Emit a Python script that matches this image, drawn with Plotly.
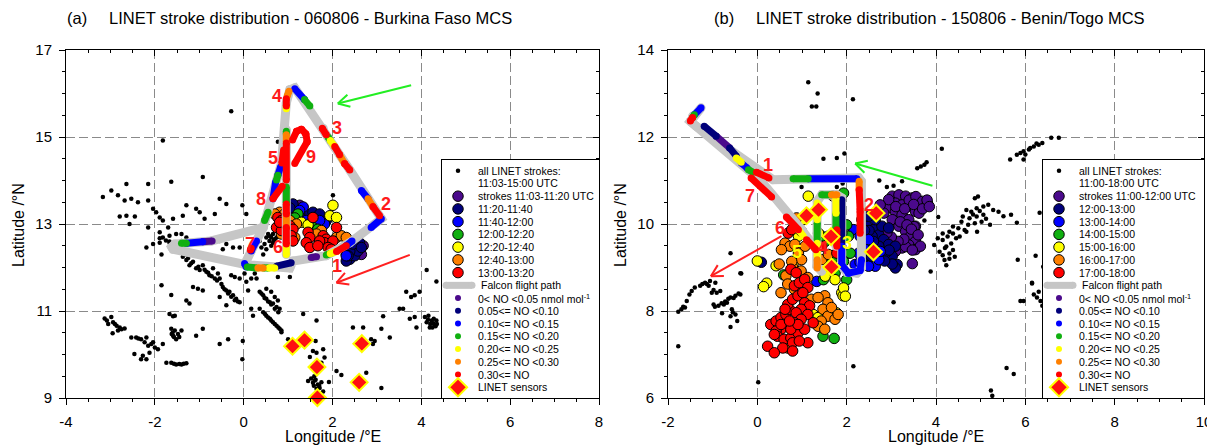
import math
import plotly.graph_objects as go

FONT = "Liberation Sans, Arial, Helvetica, sans-serif"
FIG_W, FIG_H = 1207, 445

# colour classes shared by stroke time bins and NO mixing-ratio bins
CLASS_COLORS = ["#4b0a8c", "#00007a", "#0000ff", "#10b010", "#ffff00", "#ff8000", "#ff0000"]
PATH_GREY = "#c6c6c6"
TAG_RED = "#ff1a1a"
TAG_YELLOW = "#ffff00"

NO_LABELS = ["0&lt; NO &lt;0.05 nmol mol<sup>-1</sup>", "0.05&lt;= NO &lt;0.10", "0.10&lt;= NO &lt;0.15",
             "0.15&lt;= NO &lt;0.20", "0.20&lt;= NO &lt;0.25", "0.25&lt;= NO &lt;0.30", "0.30&lt;= NO"]

# LINET sensor sites (lon, lat)
SENSOR_LON = [1.10, 1.37, 1.65, 1.66, 2.66, 2.60]
SENSOR_LAT = [10.19, 10.33, 9.71, 9.01, 10.25, 9.36]

# ---------------- panel (a): 060806 Burkina Faso MCS ----------------
A_TITLE = "LINET stroke distribution - 060806 - Burkina Faso MCS"
A_ALL_LABEL = ["all LINET strokes:", "11:03-15:00 UTC"]
A_TIME_LABELS = ["strokes 11:03-11:20 UTC", "11:20-11:40", "11:40-12:00", "12:00-12:20",
                 "12:20-12:40", "12:40-13:00", "13:00-13:20"]
A_XTICKS = [-4, -2, 0, 2, 4, 6, 8]
A_YTICKS = [9, 11, 13, 15, 17]

# all LINET strokes 11:03-15:00 UTC (lon, lat)
A_ALL = [
    (-0.28, 15.59), (-1.82, 14.92), (0.77, 14.89), (-0.92, 14.08), (-1.63, 13.97), (-2.64, 13.92),
    (-2.15, 13.92), (-3.17, 13.62), (-2.98, 13.77), (-2.83, 13.66), (-2.68, 13.54), (-2.53, 13.58),
    (-2.38, 13.50), (-2.15, 13.54), (-2.79, 13.17), (-2.64, 13.19), (-2.57, 13.00), (-2.45, 13.17),
    (-2.15, 12.92), (-2.04, 13.35), (-1.97, 13.27), (-1.89, 13.15), (-1.82, 13.08), (-1.70, 12.92),
    (-1.59, 13.12), (-1.37, 13.19), (-1.29, 13.43), (-1.07, 13.35), (-0.99, 13.27), (-0.88, 13.12),
    (-0.65, 13.23), (-0.54, 13.58), (-0.39, 13.46), (-0.03, 13.43), (0.06, 13.23), (2.01, 13.66),
    (-1.89, 12.81), (-1.82, 12.69), (-1.67, 12.73), (-1.52, 12.77), (-1.40, 12.77), (-1.40, 12.61),
    (-1.29, 12.69), (-2.19, 12.46), (-2.04, 12.54), (-1.89, 12.57), (-1.85, 12.30), (-1.67, 12.57),
    (-0.54, 12.61), (-0.39, 12.54), (-0.47, 12.42), (-0.24, 12.46), (-0.09, 12.46), (0.36, 12.61),
    (0.40, 12.46), (0.47, 12.54), (0.51, 12.42), (0.44, 12.30),
    (0.55, 12.77), (0.62, 12.69), (0.70, 12.65), (0.58, 12.61), (0.66, 12.57), (0.74, 12.69),
    (0.51, 12.69), (0.62, 12.50), (0.66, 12.77), (0.59, 12.72), (0.68, 12.62),
    (-1.89, 12.67), (-1.67, 12.60), (-1.52, 12.48), (-1.44, 12.36), (-1.37, 12.25), (-1.29, 12.17),
    (-1.22, 12.05), (-1.14, 12.13), (-1.07, 11.98), (-0.99, 11.94), (-0.92, 12.05), (-0.84, 11.90),
    (-0.77, 11.82), (-0.69, 11.98), (-0.65, 11.75), (-0.58, 11.86), (-0.54, 11.75), (-0.47, 11.55),
    (-0.39, 11.47), (-0.32, 11.44), (-0.24, 11.36), (-0.17, 11.28), (-0.09, 11.20), (-0.28, 11.82),
    (-0.20, 11.78), (-0.09, 11.75), (0.02, 11.86), (0.06, 11.67), (0.17, 11.75), (0.29, 11.75),
    (0.25, 11.86), (0.36, 11.44), (0.44, 11.36), (0.51, 11.28), (0.59, 11.20), (0.66, 11.17),
    (0.74, 11.09), (0.70, 11.32), (0.77, 11.24), (0.81, 11.05), (0.36, 11.05), (0.44, 10.97),
    (0.51, 10.89), (0.59, 10.82), (0.66, 10.74), (0.74, 10.66), (0.81, 10.59), (0.85, 10.51),
    (0.17, 11.05), (0.21, 10.89), (0.51, 11.51), (0.62, 11.44), (0.77, 11.78), (1.04, 11.78),
    (0.10, 11.47), (-1.14, 11.55), (-1.03, 11.51), (-0.92, 11.47), (-1.29, 11.24), (-1.22, 11.17),
    (-1.63, 11.37), (-1.85, 11.59), (-0.54, 11.32), (-0.39, 11.13), (-1.67, 10.93), (-1.55, 10.89),
    (-0.92, 10.59), (-1.07, 10.43), (-0.35, 10.35), (-0.54, 10.24), (-0.03, 9.89), (-0.02, 10.31),
    (-3.13, 10.83), (-2.98, 10.86), (-3.05, 10.70), (-2.94, 10.74), (-2.86, 10.66), (-2.79, 10.62),
    (-2.68, 10.60), (-2.95, 10.49), (-2.83, 10.55), (-2.53, 10.39), (-2.42, 10.39), (-2.31, 10.35),
    (-2.19, 10.39), (-2.23, 10.28), (-2.15, 10.20), (-2.08, 10.24), (-2.00, 10.16), (-1.93, 10.12),
    (-2.04, 10.28), (-2.12, 10.04), (-2.46, 10.01), (-2.27, 9.97), (-2.31, 9.89), (-2.19, 9.89),
    (-1.82, 10.24), (-1.63, 10.59), (-1.55, 10.55), (-1.59, 10.43), (-1.48, 10.47), (-1.40, 10.55),
    (-1.52, 10.35), (-1.59, 10.88), (-1.74, 9.81), (-1.63, 9.81), (-1.52, 9.77), (-1.40, 9.77),
    (-1.29, 9.80), (1.00, 10.35), (1.34, 10.93), (1.64, 10.78), (1.62, 10.31), (1.56, 10.08),
    (1.64, 10.04), (1.79, 10.12), (1.82, 9.93), (1.49, 9.94), (1.75, 9.81), (1.45, 9.39),
    (1.56, 9.35), (1.67, 9.31), (1.59, 9.50), (1.71, 9.23), (1.79, 9.15), (1.64, 9.21),
    (1.75, 9.36), (1.92, 9.37), (2.09, 9.62), (2.20, 9.53), (2.76, 9.58), (3.10, 9.23),
    (2.46, 10.62), (2.69, 10.62), (3.10, 10.59), (2.87, 10.35), (2.95, 10.31), (2.91, 10.24),
    (3.29, 10.39), (3.14, 10.88), (3.51, 11.05), (3.59, 11.05), (3.66, 11.44), (3.77, 11.32),
    (3.85, 11.36), (3.96, 11.44), (3.74, 10.82), (3.85, 10.86), (3.89, 10.62), (4.08, 10.86),
    (4.16, 10.89), (4.12, 10.74), (4.23, 10.78), (4.19, 10.62), (4.30, 10.66), (4.34, 10.78),
    (4.12, 11.94), (4.34, 11.68),
    (-1.75, 12.62), (-1.60, 12.55), (-1.48, 12.43), (-1.33, 12.30), (-1.25, 12.22), (-1.18, 12.10),
    (-1.02, 12.02), (-0.88, 11.95), (-0.80, 11.88), (-0.72, 11.80), (-0.60, 11.70), (-0.50, 11.62),
    (-0.43, 11.50), (-0.35, 11.40), (-0.28, 11.33), (-0.20, 11.25), (-0.13, 11.22), (0.40, 11.40),
    (0.47, 11.30), (0.55, 11.22), (0.62, 11.15), (0.70, 11.05), (0.78, 10.97), (0.48, 10.93),
    (0.55, 10.85), (0.62, 10.78), (0.70, 10.70), (0.78, 10.62), (0.85, 10.55), (1.58, 9.28),
    (1.62, 9.42), (1.70, 9.28), (1.68, 9.12), (1.74, 9.05), (1.60, 9.40), (1.52, 9.45),
    (4.20, 10.70), (4.27, 10.72), (4.35, 10.70), (4.25, 10.62), (4.32, 10.65), (4.15, 10.80),
    (4.28, 10.82), (-1.60, 10.50), (-1.57, 10.40), (-1.45, 10.40), (-1.62, 10.47), (-1.57, 9.79),
    (-1.45, 9.78), (-1.35, 9.79), (-3.08, 10.78), (-2.90, 10.70), (-2.75, 10.58), (-2.37, 10.37),
]

# strokes coloured by 20-min time bin (lon, lat, bin index)
A_STROKES = [
    (1.26, 13.43, 0), (1.11, 13.27, 0), (2.54, 12.61, 0), (2.69, 12.50, 0), (2.65, 12.30, 0),
    (1.11, 13.46, 1), (1.04, 13.37, 1), (1.41, 13.23, 1), (1.56, 13.27, 1), (1.71, 13.23, 1),
    (1.86, 13.08, 1), (1.64, 13.00, 1), (2.31, 12.30, 1), (2.39, 12.19, 1), (2.46, 12.38, 1),
    (2.54, 12.50, 1), (2.61, 12.57, 1), (2.42, 12.46, 1), (2.50, 12.27, 1), (2.31, 12.15, 1),
    (2.57, 12.38, 1), (2.39, 12.38, 1), (2.35, 12.27, 1), (2.46, 12.54, 1), (2.65, 12.46, 1),
    (1.26, 13.23, 1),
    (1.34, 13.39, 2), (1.26, 13.31, 2), (1.82, 13.00, 2), (1.71, 13.08, 2), (1.41, 13.08, 2),
    (2.31, 12.27, 2),
    (1.22, 13.23, 3), (1.56, 12.92, 3), (1.67, 12.88, 3), (1.15, 13.14, 3),
    (2.01, 13.43, 4), (1.30, 13.04, 4), (1.45, 12.98, 4), (1.94, 13.19, 4), (2.09, 13.15, 4),
    (1.64, 12.71, 4),
    (0.81, 13.27, 5), (0.92, 13.23, 5), (1.04, 13.08, 5), (1.19, 13.00, 5), (1.15, 12.69, 5),
    (2.09, 12.69, 5), (2.20, 12.73, 5), (2.31, 12.69, 5), (1.75, 12.85, 5), (1.64, 12.77, 5),
    (0.85, 12.77, 5), (0.70, 13.23, 5),
    (0.77, 13.15, 6), (0.85, 13.08, 6), (0.89, 12.98, 6), (1.04, 12.96, 6), (1.11, 12.88, 6),
    (1.07, 12.73, 6), (1.11, 12.61, 6), (1.45, 12.81, 6), (1.49, 12.69, 6), (1.41, 12.57, 6),
    (1.49, 12.46, 6), (1.79, 12.73, 6), (1.86, 12.65, 6), (1.94, 12.54, 6), (1.82, 12.57, 6),
    (2.01, 12.61, 6), (1.90, 12.46, 6), (2.09, 12.92, 6), (1.56, 13.15, 6), (0.74, 12.92, 6),
    (0.85, 12.85, 6), (1.97, 12.42, 6), (1.71, 12.61, 6), (1.67, 12.50, 6), (0.81, 13.04, 6),
]

# Falcon flight track pieces (lon, lat)
A_FLIGHT = [
    [(0.44, 12.92), (-0.73, 12.61), (-1.55, 12.54), (-1.62, 12.47), (-1.59, 12.42), (0.02, 12.07)],
    [(0.02, 12.07), (1.04, 11.99), (1.11, 12.15), (1.86, 12.27), (2.39, 12.57), (3.10, 13.12),
     (2.39, 14.24), (1.79, 15.20), (1.15, 16.13), (1.04, 16.09), (0.96, 15.78), (0.85, 14.39),
     (0.66, 13.62), (0.44, 12.92), (0.17, 12.38), (0.02, 12.07)],
    [(0.96, 15.17), (0.96, 12.30)],
]

# NO along track: (bin, lon0, lat0, lon1, lat1)
A_NO = [
    (3, -1.40, 12.56, -1.29, 12.56), (2, -1.29, 12.56, -0.92, 12.59), (0, -0.92, 12.59, -0.71, 12.61),
    (2, 0.02, 12.09, 0.06, 12.01), (3, 0.08, 12.01, 0.29, 11.99), (5, 0.32, 11.99, 0.44, 11.99),
    (3, 0.45, 11.99, 0.55, 11.99), (4, 0.57, 11.99, 0.70, 11.99), (1, 0.74, 12.03, 1.07, 12.11),
    (0, 1.52, 12.23, 1.64, 12.25), (3, 1.86, 12.29, 1.95, 12.32), (4, 1.95, 12.32, 2.09, 12.37),
    (6, 2.09, 12.37, 2.31, 12.50), (2, 2.31, 12.50, 2.44, 12.61), (2, 2.87, 12.92, 3.10, 13.12),
    (2, 2.65, 13.77, 2.80, 13.58), (5, 2.80, 13.58, 2.91, 13.40), (6, 2.91, 13.40, 3.06, 13.19),
    (6, 2.39, 14.24, 2.27, 14.39), (5, 2.27, 14.39, 2.16, 14.59), (6, 2.16, 14.59, 2.05, 14.78),
    (4, 2.05, 14.78, 1.95, 14.92), (3, 1.95, 14.92, 1.90, 15.00), (6, 1.86, 15.05, 1.77, 15.20),
    (3, 1.49, 15.71, 1.37, 15.86), (2, 1.37, 15.86, 1.15, 16.11), (5, 1.02, 16.05, 0.98, 15.94),
    (6, 0.96, 15.88, 0.96, 15.71), (4, 0.96, 15.71, 0.96, 15.65), (3, 0.96, 15.13, 0.96, 15.07),
    (5, 0.96, 15.05, 0.96, 14.89), (6, 0.96, 14.86, 0.96, 14.01), (6, 0.90, 14.70, 0.86, 14.40),
    (2, 0.83, 14.31, 0.77, 14.12), (3, 0.77, 14.12, 0.74, 14.01), (2, 0.72, 13.97, 0.66, 13.58),
    (6, 0.66, 13.58, 0.87, 13.87), (3, 0.55, 13.27, 0.47, 13.08), (2, 0.29, 12.61, 0.17, 12.38),
    (6, 0.17, 12.44, 0.15, 12.40), (3, 0.96, 13.85, 0.96, 13.50), (6, 0.96, 13.46, 0.96, 13.23),
    (5, 0.96, 13.23, 0.96, 12.92), (6, 0.96, 12.92, 0.96, 12.54), (4, 0.96, 12.54, 0.96, 12.30),
    (6, 1.10, 14.93, 1.19, 15.13), (6, 1.19, 15.13, 1.30, 15.18), (6, 1.30, 15.18, 1.40, 15.07),
    (6, 1.40, 15.07, 1.43, 14.89), (6, 1.43, 14.89, 1.15, 14.39),
]

# flight leg numbers (text, lon, lat, colour)
A_TAGS = [("1", 2.09, 12.03, TAG_RED), ("2", 3.21, 13.45, TAG_RED), ("3", 2.09, 15.20, TAG_RED),
          ("4", 0.74, 15.94, TAG_RED), ("5", 0.66, 14.51, TAG_RED), ("6", 0.77, 12.46, TAG_RED),
          ("7", 0.14, 12.54, TAG_RED), ("8", 0.40, 13.58, TAG_RED), ("9", 1.52, 14.55, TAG_RED)]

# storm motion arrows (tail lon, tail lat, head lon, head lat, colour)
A_ARROWS = [(3.77, 16.19, 2.12, 15.77, "#22ee22"), (3.74, 12.29, 2.09, 11.65, "#ff2020")]

# ---------------- panel (b): 150806 Benin/Togo MCS ----------------
B_TITLE = "LINET stroke distribution - 150806 - Benin/Togo MCS"
B_ALL_LABEL = ["all LINET strokes:", "11:00-18:00 UTC"]
B_TIME_LABELS = ["strokes 11:00-12:00 UTC", "12:00-13:00", "13:00-14:00", "14:00-15:00",
                 "15:00-16:00", "16:00-17:00", "17:00-18:00"]
B_XTICKS = [-2, 0, 2, 4, 6, 8, 10]
B_YTICKS = [6, 8, 10, 12, 14]

B_ALL = [
    (1.14, 13.26), (1.35, 13.00), (1.22, 12.70), (1.32, 12.70), (2.14, 12.87), (1.48, 11.50),
    (1.78, 11.52), (1.95, 11.62), (0.99, 10.85), (1.78, 10.85), (1.91, 10.93), (2.73, 11.00),
    (2.90, 10.85), (3.05, 10.88), (3.24, 10.98), (4.13, 11.73), (4.05, 10.16), (3.88, 8.91),
    (3.05, 8.20), (-0.60, 9.33), (-0.36, 8.86),
    (-1.77, 7.98), (-1.70, 8.04), (-1.62, 8.08), (-1.58, 8.23), (-1.47, 8.46), (-1.40, 8.54),
    (-1.28, 8.58), (-1.17, 8.65), (-1.06, 8.69), (-0.94, 8.65), (-1.09, 8.58), (-1.02, 8.42),
    (-0.91, 8.42), (-0.83, 8.46), (-0.98, 8.15), (-0.87, 8.12), (-0.75, 8.15), (-0.68, 8.19),
    (-0.60, 8.31), (-0.49, 8.35), (-0.38, 8.38), (-0.57, 8.04), (-0.49, 7.92), (-0.79, 7.95),
    (-0.60, 7.88), (-0.45, 7.77), (-0.60, 7.63), (-1.13, 8.62), (-1.23, 8.62), (-0.98, 8.48),
    (-0.72, 8.22), (-0.65, 8.28), (-0.53, 8.30), (-0.80, 8.18), (-0.95, 8.10), (-1.52, 8.38),
    (-1.66, 8.10), (-0.42, 8.40), (-0.55, 7.97), (-1.77, 7.19), (-0.38, 8.87), (0.02, 6.36),
    (2.15, 6.73), (5.58, 6.69), (5.74, 6.55), (5.23, 6.17), (5.26, 6.05),
    (6.15, 8.65), (6.19, 8.38), (6.26, 8.31), (6.34, 8.23), (6.38, 8.12), (5.89, 8.23), (5.96, 8.23),
    (3.58, 11.28), (3.66, 11.32), (3.74, 11.36), (3.79, 11.42), (3.74, 10.08),
    (4.87, 10.59), (4.94, 10.63), (4.68, 10.32), (4.79, 10.28), (4.91, 10.36), (5.06, 10.40),
    (5.17, 10.44), (5.28, 10.32), (5.40, 10.28), (4.60, 10.17), (4.75, 10.13), (4.91, 10.17),
    (5.06, 10.21), (4.57, 10.05), (4.72, 9.98), (4.87, 10.02), (5.02, 10.05), (5.21, 9.98),
    (4.38, 9.94), (4.30, 9.82), (4.15, 9.78), (4.04, 9.67), (3.96, 9.52), (4.15, 9.63),
    (4.26, 9.71), (4.38, 9.78), (4.45, 9.67), (4.34, 9.55), (4.23, 9.48), (4.38, 9.40),
    (4.30, 9.32), (4.15, 9.28), (4.08, 9.36), (4.19, 9.17), (4.23, 9.05), (4.42, 9.25),
    (4.53, 9.71), (4.64, 9.86), (5.51, 10.18), (5.68, 10.21), (5.81, 10.03), (4.68, 9.82),
    (4.92, 9.82), (4.83, 10.22), (4.98, 10.30), (5.12, 10.12), (4.50, 9.90), (4.20, 9.45),
    (4.30, 9.20),
    (5.66, 11.48), (5.81, 11.59), (5.96, 11.67), (6.08, 11.71), (6.19, 11.78), (6.30, 11.82),
    (6.38, 11.86), (5.96, 11.48), (6.58, 11.98), (6.75, 11.98), (5.89, 11.63), (6.11, 11.75),
    (6.00, 11.60), (6.25, 11.85),
    (5.83, 9.18), (6.23, 9.27), (6.15, 8.63), (6.30, 8.44), (6.32, 10.26), (6.40, 9.02),
]

B_STROKES = [
    (3.02, 10.64, 0), (3.17, 10.67, 0), (3.32, 10.64, 0), (3.47, 10.60, 0), (3.62, 10.52, 0),
    (3.77, 10.48, 0), (3.09, 10.48, 0), (3.24, 10.44, 0), (3.43, 10.41, 0), (3.54, 10.29, 0),
    (2.94, 10.37, 0), (2.83, 10.25, 0), (3.09, 10.29, 0), (3.24, 10.21, 0), (3.39, 10.10, 0),
    (3.02, 10.10, 0), (3.17, 9.95, 0), (3.32, 9.83, 0), (3.43, 9.72, 0), (3.54, 9.60, 0),
    (3.39, 9.52, 0), (3.24, 9.45, 0), (3.09, 9.37, 0), (3.54, 9.95, 0), (2.94, 10.56, 0),
    (2.75, 10.44, 0), (3.62, 10.25, 0), (3.69, 10.41, 0), (3.54, 9.41, 0), (3.65, 9.49, 0),
    (3.40, 10.55, 0), (3.55, 10.63, 0), (3.70, 10.52, 0), (3.81, 10.48, 0), (3.51, 9.94, 0),
    (3.32, 9.48, 0), (3.47, 9.40, 0), (3.47, 9.09, 0), (3.10, 10.40, 0), (3.30, 10.35, 0),
    (3.50, 10.45, 0), (3.20, 10.05, 0), (3.35, 9.98, 0), (3.45, 9.88, 0), (3.60, 9.75, 0),
    (3.28, 9.65, 0), (3.15, 9.60, 0), (3.00, 9.70, 0), (2.90, 9.80, 0), (3.70, 10.35, 0),
    (3.80, 10.55, 0), (3.85, 10.40, 0),
    (2.34, 10.10, 1), (2.45, 9.95, 1), (2.60, 9.87, 1), (2.72, 9.75, 1), (2.83, 9.64, 1),
    (2.94, 9.53, 1), (3.09, 9.49, 1), (3.02, 9.26, 1), (2.87, 9.33, 1), (2.72, 9.49, 1),
    (2.49, 9.49, 1), (2.38, 9.64, 1), (2.57, 9.72, 1), (2.42, 9.33, 1), (2.53, 9.14, 1),
    (3.13, 9.07, 1), (3.09, 8.99, 1), (2.79, 9.95, 1), (2.94, 9.91, 1), (2.64, 10.10, 1),
    (2.49, 10.18, 1), (0.09, 9.12, 1), (3.02, 9.08, 1), (2.60, 9.60, 1), (2.70, 9.30, 1),
    (2.85, 9.15, 1), (2.95, 9.40, 1), (2.50, 9.85, 1), (2.55, 9.25, 1), (2.40, 9.85, 1),
    (2.15, 9.87, 2), (2.30, 9.72, 2), (2.38, 9.49, 2), (2.27, 9.33, 2), (2.04, 9.33, 2),
    (2.34, 9.14, 2), (2.64, 9.03, 2), (2.72, 9.18, 2), (2.49, 9.03, 2), (2.19, 9.07, 2),
    (2.75, 9.37, 2), (1.33, 8.68, 2), (2.49, 9.64, 2), (2.30, 9.12, 2),
    (1.93, 10.71, 3), (2.00, 9.98, 3), (2.04, 9.72, 3), (2.08, 9.33, 3), (1.93, 9.14, 3),
    (2.00, 8.72, 3), (1.48, 8.72, 3), (1.59, 9.72, 3), (1.52, 9.60, 3), (1.67, 9.18, 3),
    (1.89, 9.79, 3), (1.74, 8.87, 3), (1.44, 9.72, 3), (1.47, 7.42, 3), (1.72, 7.37, 3),
    (0.59, 8.83, 3),
    (1.14, 10.64, 4), (0.00, 9.15, 4), (0.42, 9.04, 4), (0.21, 8.64, 4), (0.14, 8.56, 4),
    (1.89, 8.42, 4), (1.92, 8.35, 4), (1.77, 7.96, 4), (1.25, 7.92, 4), (1.36, 7.85, 4),
    (0.80, 9.07, 4), (0.92, 9.72, 4), (1.37, 9.79, 4), (1.52, 8.80, 4), (1.74, 8.72, 4),
    (1.93, 8.53, 4), (1.97, 8.34, 4), (1.03, 10.10, 4),
    (0.49, 9.08, 5), (0.64, 8.81, 5), (0.79, 9.00, 5), (0.98, 8.92, 5), (1.13, 8.77, 5),
    (0.98, 8.62, 5), (0.83, 8.50, 5), (0.68, 8.62, 5), (0.53, 8.42, 5), (1.51, 8.35, 5),
    (1.58, 8.19, 5), (1.47, 8.04, 5), (1.58, 7.88, 5), (1.74, 7.81, 5), (1.43, 7.77, 5),
    (1.36, 7.65, 5), (1.51, 7.58, 5), (1.66, 8.08, 5), (1.81, 7.92, 5), (1.21, 8.27, 5),
    (0.68, 7.15, 5), (1.36, 8.31, 5), (0.62, 9.56, 5), (0.73, 9.49, 5), (0.84, 9.53, 5),
    (0.54, 9.41, 5), (0.92, 9.33, 5), (0.99, 9.18, 5), (0.77, 9.14, 5), (1.07, 9.49, 5),
    (1.44, 9.18, 5), (1.59, 9.30, 5), (1.70, 10.64, 5), (0.88, 10.14, 5),
    (0.75, 8.96, 6), (0.30, 7.69, 6), (0.42, 7.77, 6), (0.53, 7.85, 6), (0.64, 7.92, 6),
    (0.72, 8.04, 6), (0.68, 8.15, 6), (0.79, 8.27, 6), (0.91, 8.35, 6), (0.83, 8.58, 6),
    (0.94, 8.65, 6), (1.06, 8.73, 6), (1.13, 8.54, 6), (1.02, 8.42, 6), (1.06, 8.19, 6),
    (1.17, 8.12, 6), (0.98, 8.04, 6), (0.87, 7.96, 6), (1.13, 7.92, 6), (0.98, 7.81, 6),
    (0.83, 7.73, 6), (0.68, 7.65, 6), (0.53, 7.58, 6), (0.42, 7.54, 6), (0.45, 7.42, 6),
    (0.60, 7.35, 6), (0.75, 7.38, 6), (0.91, 7.50, 6), (1.06, 7.58, 6), (1.25, 7.73, 6),
    (0.57, 7.15, 6), (0.38, 7.46, 6), (0.53, 7.69, 6), (0.75, 7.58, 6), (0.91, 7.69, 6),
    (0.72, 7.77, 6), (0.62, 8.04, 6), (0.79, 7.27, 6), (0.23, 7.19, 6), (0.38, 7.04, 6),
    (0.79, 7.08, 6), (0.87, 8.88, 6), (1.13, 7.27, 6), (0.94, 7.31, 6), (0.69, 9.79, 6),
    (0.77, 9.87, 6), (0.99, 9.83, 6), (1.33, 9.45, 6), (1.44, 9.49, 6), (1.78, 9.56, 6),
    (1.78, 9.33, 6),
]

B_FLIGHT = [
    [(-1.26, 12.67), (-1.45, 12.48), (-1.50, 12.36), (-1.37, 12.25), (0.17, 11.10), (0.35, 11.02),
     (2.27, 11.06), (2.33, 10.98), (2.33, 8.99), (2.23, 8.87), (2.00, 8.89), (1.89, 9.03),
     (1.89, 10.60), (1.78, 10.67), (1.44, 10.67), (1.34, 10.52), (1.33, 9.03), (1.44, 8.91)],
    [(-1.50, 12.36), (0.09, 10.98), (0.99, 9.87), (1.33, 9.41)],
    [(1.76, 10.67), (1.76, 9.49)],
]

B_NO = [
    (2, -1.26, 12.67, -1.41, 12.51), (3, -1.41, 12.51, -1.45, 12.45), (6, -1.45, 12.45, -1.50, 12.37),
    (1, -1.19, 12.25, -0.92, 12.02), (0, -0.92, 12.02, -0.62, 11.75), (1, -0.62, 11.75, -0.47, 11.56),
    (4, -0.47, 11.52, -0.36, 11.42), (2, -0.36, 11.40, -0.23, 11.29), (3, -0.20, 11.25, -0.10, 11.19),
    (6, -0.02, 11.19, 0.26, 11.06), (6, -0.14, 11.06, 0.32, 10.62), (6, 0.65, 10.16, 0.92, 9.87),
    (4, 0.92, 9.87, 1.03, 9.72), (6, 1.10, 9.64, 1.31, 9.41), (3, 0.80, 11.04, 1.14, 11.04),
    (2, 1.14, 11.04, 2.23, 11.04), (5, 2.28, 10.98, 2.28, 10.79), (6, 2.28, 10.79, 2.30, 10.33),
    (6, 2.30, 10.29, 2.30, 9.79), (2, 2.33, 9.18, 2.30, 8.93), (2, 2.30, 8.93, 2.04, 8.87),
    (2, 2.04, 8.87, 1.89, 9.06), (2, 1.89, 9.06, 1.89, 9.49), (1, 1.89, 10.56, 1.89, 9.49),
    (3, 1.44, 10.67, 1.66, 10.67), (5, 1.66, 10.67, 1.78, 10.67), (4, 1.76, 10.60, 1.76, 10.25),
    (3, 1.76, 10.25, 1.76, 9.91), (6, 1.78, 9.87, 1.78, 9.49), (4, 1.34, 10.48, 1.34, 10.10),
    (3, 1.34, 10.02, 1.34, 9.64), (4, 1.34, 9.56, 1.34, 9.26), (5, 1.34, 9.18, 1.34, 8.99),
]

B_TAGS = [("1", 0.24, 11.36, TAG_RED), ("7", -0.17, 10.64, TAG_RED), ("6", 0.50, 9.91, TAG_RED),
          ("2", 2.49, 10.44, TAG_RED), ("3", 2.00, 9.56, TAG_YELLOW), ("4", 1.48, 9.45, TAG_RED),
          ("5", 0.88, 9.35, TAG_YELLOW)]

B_ARROWS = [(3.92, 10.88, 2.19, 11.39, "#22ee22"), (0.54, 9.72, -1.04, 8.80, "#ff2020")]

# ---------------- page geometry (pixels) ----------------
PLOT_TOP, PLOT_BOTTOM = 50, 398
PANELS = {
    "a": dict(left=66, right=599, xr=[-4, 8], yr=[9, 17], xt=A_XTICKS, yt=A_YTICKS, legend_left=442),
    "b": dict(left=668, right=1204, xr=[-2, 10], yr=[6, 14], xt=B_XTICKS, yt=B_YTICKS, legend_left=1043),
}
LEGEND_TOP = 160


def fx(px):
    return px / FIG_W


def fy(py):
    return 1 - py / FIG_H


fig = go.Figure()


def xy(pts):
    return [p[0] for p in pts], [p[1] for p in pts]


def add_all(pts, xa, ya):
    x, y = xy(pts)
    fig.add_trace(go.Scatter(x=x, y=y, mode="markers", xaxis=xa, yaxis=ya, hoverinfo="skip",
                             marker=dict(size=4.5, color="black", line=dict(width=0))))


def add_strokes(pts, xa, ya):
    for c, col in enumerate(CLASS_COLORS):
        sel = [p for p in pts if p[2] == c]
        if not sel:
            continue
        x, y = xy(sel)
        fig.add_trace(go.Scatter(x=x, y=y, mode="markers", xaxis=xa, yaxis=ya, hoverinfo="skip",
                                 marker=dict(size=10.5, color=col, line=dict(color="black", width=1))))


def add_flight(pieces, xa, ya):
    xs, ys = [], []
    for piece in pieces:
        x, y = xy(piece)
        xs += x + [None]
        ys += y + [None]
    fig.add_trace(go.Scatter(x=xs, y=ys, mode="lines+markers", xaxis=xa, yaxis=ya, hoverinfo="skip",
                             line=dict(color=PATH_GREY, width=9),
                             marker=dict(size=9, color=PATH_GREY, line=dict(width=0))))


def add_no(segs, xa, ya):
    for c, col in enumerate(CLASS_COLORS):
        xs, ys = [], []
        for s in segs:
            if s[0] == c:
                xs += [s[1], s[3], None]
                ys += [s[2], s[4], None]
        if xs:
            fig.add_trace(go.Scatter(x=xs, y=ys, mode="lines+markers", xaxis=xa, yaxis=ya,
                                     hoverinfo="skip", line=dict(color=col, width=7),
                                     marker=dict(size=7, color=col, line=dict(width=0))))


def add_sensors(xa, ya):
    fig.add_trace(go.Scatter(x=SENSOR_LON, y=SENSOR_LAT, mode="markers", xaxis=xa, yaxis=ya,
                             hoverinfo="skip", cliponaxis=False,
                             marker=dict(symbol="diamond", size=13, color="#ff1010",
                                         line=dict(color="#ffff00", width=2))))


annotations = []
shapes = []


def add_tags(tags, xa, ya):
    for t, lon, lat, col in tags:
        annotations.append(dict(text=t, x=lon, y=lat, xref=xa, yref=ya, showarrow=False,
                                font=dict(family=FONT, size=18, color=col, weight="bold")))


def add_arrows(arrows, xa, ya, sx, sy):
    for x0, y0, x1, y1, col in arrows:
        shapes.append(dict(type="line", x0=x0, y0=y0, x1=x1, y1=y1, xref=xa, yref=ya,
                           line=dict(color=col, width=2), layer="above"))
        dx, dy = (x1 - x0) * sx, (y1 - y0) * sy
        n = math.hypot(dx, dy)
        ux, uy = dx / n, dy / n
        for ang in (0.5, -0.5):
            ca, sa = math.cos(ang), math.sin(ang)
            bx = -(ux * ca - uy * sa) * 13
            by = -(ux * sa + uy * ca) * 13
            shapes.append(dict(type="line", x0=x1, y0=y1, x1=x1 + bx / sx, y1=y1 + by / sy,
                               xref=xa, yref=ya, line=dict(color=col, width=2), layer="above"))


def add_legend(xa, ya, width, height, all_label, time_labels):
    fig.add_trace(go.Scatter(x=[0, width, width, 0, 0], y=[0, 0, height, height, 0], mode="lines",
                             fill="toself", fillcolor="white", line=dict(color="white", width=0),
                             xaxis=xa, yaxis=ya, hoverinfo="skip"))
    row0, step, sym_x, txt_x = 10.7, 12.74, 16, 34
    rows = [("dot", "black", all_label[0]), ("none", None, all_label[1])]
    for c, lab in enumerate(time_labels):
        rows.append(("circle", CLASS_COLORS[c], lab))
    rows.append(("path", PATH_GREY, "Falcon flight path"))
    for c, lab in enumerate(NO_LABELS):
        rows.append(("no", CLASS_COLORS[c], lab))
    rows.append(("sensor", None, "LINET sensors"))
    for i, (kind, col, lab) in enumerate(rows):
        yy = row0 + i * step
        tx = txt_x
        if kind == "dot":
            fig.add_trace(go.Scatter(x=[sym_x], y=[yy], mode="markers", xaxis=xa, yaxis=ya,
                                     hoverinfo="skip", marker=dict(size=4.5, color="black")))
        elif kind == "circle":
            fig.add_trace(go.Scatter(x=[sym_x], y=[yy], mode="markers", xaxis=xa, yaxis=ya,
                                     hoverinfo="skip",
                                     marker=dict(size=10.5, color=col, line=dict(color="black", width=1))))
        elif kind == "path":
            fig.add_trace(go.Scatter(x=[4, 30], y=[yy, yy], mode="lines+markers", xaxis=xa, yaxis=ya,
                                     hoverinfo="skip", line=dict(color=col, width=7),
                                     marker=dict(size=7, color=col)))
            tx = 37
        elif kind == "no":
            fig.add_trace(go.Scatter(x=[sym_x], y=[yy], mode="markers", xaxis=xa, yaxis=ya,
                                     hoverinfo="skip", marker=dict(size=6, color=col)))
        elif kind == "sensor":
            fig.add_trace(go.Scatter(x=[sym_x], y=[yy], mode="markers", xaxis=xa, yaxis=ya,
                                     hoverinfo="skip",
                                     marker=dict(symbol="diamond", size=14, color="#ff1010",
                                                 line=dict(color="#ffff00", width=2))))
        annotations.append(dict(text=lab, x=tx, y=yy, xref=xa, yref=ya, xanchor="left",
                                yanchor="middle", showarrow=False,
                                font=dict(family=FONT, size=10.5, color="black")))


# panel (a)
add_all(A_ALL, "x", "y")
add_strokes(A_STROKES, "x", "y")
add_flight(A_FLIGHT, "x", "y")
add_no(A_NO, "x", "y")
add_sensors("x", "y")
add_tags(A_TAGS, "x", "y")
# panel (b)
add_all(B_ALL, "x2", "y2")
add_strokes(B_STROKES, "x2", "y2")
add_flight(B_FLIGHT, "x2", "y2")
add_no(B_NO, "x2", "y2")
add_sensors("x2", "y2")
add_tags(B_TAGS, "x2", "y2")

# top / right frame axes carry inward ticks
fig.add_trace(go.Scatter(x=[], y=[], xaxis="x3", yaxis="y3", hoverinfo="skip"))
fig.add_trace(go.Scatter(x=[], y=[], xaxis="x4", yaxis="y4", hoverinfo="skip"))

pa, pb = PANELS["a"], PANELS["b"]
sy_px = (PLOT_BOTTOM - PLOT_TOP) / 8.0
add_arrows(A_ARROWS, "x", "y", (pa["right"] - pa["left"]) / 12.0, sy_px)
add_arrows(B_ARROWS, "x2", "y2", (pb["right"] - pb["left"]) / 12.0, sy_px)

# legend cards
add_legend("x5", "y5", pa["right"] - pa["legend_left"], PLOT_BOTTOM - LEGEND_TOP, A_ALL_LABEL, A_TIME_LABELS)
add_legend("x6", "y6", pb["right"] - pb["legend_left"], PLOT_BOTTOM - LEGEND_TOP, B_ALL_LABEL, B_TIME_LABELS)

ydom = [fy(PLOT_BOTTOM), fy(PLOT_TOP)]
tickfont = dict(family=FONT, size=15, color="black")
minor_out = dict(tickmode="linear", tick0=0, dtick=0.5, ticks="outside", ticklen=3,
                 tickcolor="black", showgrid=False)
minor_in = dict(tickmode="linear", tick0=0, dtick=0.5, ticks="inside", ticklen=3, tickcolor="black")
grid = dict(showgrid=True, gridcolor="#8a8a8a", griddash="9px,4px", gridwidth=1)


def main_x(p, anchor):
    return dict(domain=[fx(p["left"]), fx(p["right"])], range=p["xr"], anchor=anchor,
                tickmode="array", tickvals=p["xt"], ticktext=[str(v) for v in p["xt"]],
                ticks="outside", ticklen=6, tickcolor="black", tickwidth=1, minor=minor_out,
                zeroline=False, showline=True, linecolor="black", linewidth=1,
                tickfont=tickfont, ticklabelstandoff=4, ticklabeloverflow="allow",
                fixedrange=True, automargin=False, **grid)


def main_y(p, anchor):
    return dict(domain=ydom, range=p["yr"], anchor=anchor,
                tickmode="array", tickvals=p["yt"], ticktext=[str(v) for v in p["yt"]],
                ticks="outside", ticklen=6, tickcolor="black", tickwidth=1, minor=minor_out,
                zeroline=False, showline=True, linecolor="black", linewidth=1,
                tickfont=tickfont, ticklabelstandoff=4, ticklabeloverflow="allow",
                fixedrange=True, automargin=False, **grid)


def frame_x(p, over, anchor):
    return dict(overlaying=over, side="top", anchor=anchor, range=p["xr"], tickmode="array",
                tickvals=p["xt"], ticks="inside", ticklen=6, tickcolor="black", minor=minor_in,
                showticklabels=False, showgrid=False, zeroline=False, showline=True,
                linecolor="black", linewidth=1, fixedrange=True)


def frame_y(p, over, anchor):
    return dict(overlaying=over, side="right", anchor=anchor, range=p["yr"], tickmode="array",
                tickvals=p["yt"], ticks="inside", ticklen=6, tickcolor="black", minor=minor_in,
                showticklabels=False, showgrid=False, zeroline=False, showline=True,
                linecolor="black", linewidth=1, fixedrange=True)


def legend_axes(left, right, xname, yname):
    w, h = right - left, PLOT_BOTTOM - LEGEND_TOP
    ax = dict(domain=[fx(left), fx(right)], range=[0, w], anchor=yname, showticklabels=False,
              ticks="", showgrid=False, zeroline=False, showline=True, mirror=True,
              linecolor="black", linewidth=1, fixedrange=True)
    ay = dict(domain=[fy(PLOT_BOTTOM), fy(LEGEND_TOP)], range=[h, 0], anchor=xname,
              showticklabels=False, ticks="", showgrid=False, zeroline=False, showline=True,
              mirror=True, linecolor="black", linewidth=1, fixedrange=True)
    return ax, ay


lx5, ly5 = legend_axes(pa["legend_left"], pa["right"], "x5", "y5")
lx6, ly6 = legend_axes(pb["legend_left"], pb["right"], "x6", "y6")

# titles and axis labels
title_font = dict(family=FONT, size=16.5, color="black")
label_font = dict(family=FONT, size=16, color="black")
for tag, tx, title, p in (("(a)", 65, A_TITLE, pa), ("(b)", 712, B_TITLE, pb)):
    annotations.append(dict(text=tag, x=fx(tx), y=fy(18), xref="paper", yref="paper",
                            xanchor="left", yanchor="middle", showarrow=False, font=title_font))
    annotations.append(dict(text=title, x=fx(tx + 42), y=fy(18), xref="paper", yref="paper",
                            xanchor="left", yanchor="middle", showarrow=False, font=title_font))
    annotations.append(dict(text="Longitude /°E", x=fx((p["left"] + p["right"]) / 2), y=fy(436),
                            xref="paper", yref="paper", xanchor="center", yanchor="middle",
                            showarrow=False, font=label_font))
    annotations.append(dict(text="Latitude /°N", x=fx(p["left"] - 48), y=fy(225), xref="paper",
                            yref="paper", xanchor="center", yanchor="middle", textangle=-90,
                            showarrow=False, font=label_font))

fig.update_layout(
    width=FIG_W, height=FIG_H, margin=dict(l=0, r=0, t=0, b=0),
    paper_bgcolor="white", plot_bgcolor="white", showlegend=False,
    font=dict(family=FONT, color="black"),
    xaxis=main_x(pa, "y"), yaxis=main_y(pa, "x"),
    xaxis2=main_x(pb, "y2"), yaxis2=main_y(pb, "x2"),
    xaxis3=frame_x(pa, "x", "y3"), yaxis3=frame_y(pa, "y", "x3"),
    xaxis4=frame_x(pb, "x2", "y4"), yaxis4=frame_y(pb, "y2", "x4"),
    xaxis5=lx5, yaxis5=ly5, xaxis6=lx6, yaxis6=ly6,
    annotations=annotations, shapes=shapes,
)

fig.write_html("out.html", config=dict(displayModeBar=False))
